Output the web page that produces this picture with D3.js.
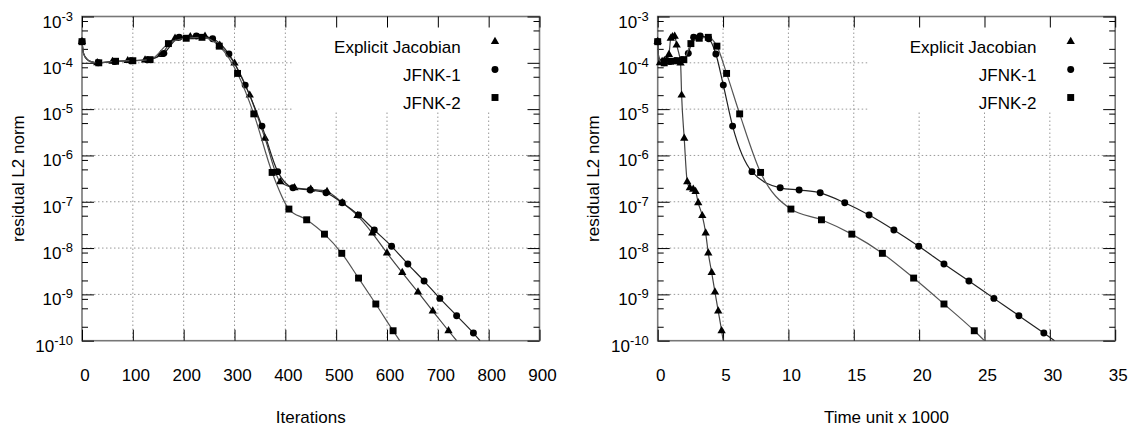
<!DOCTYPE html>
<html>
<head>
<meta charset="utf-8">
<script src="https://cdn.jsdelivr.net/npm/d3@7"></script>
<style>
	body { margin: 0; background: #fff; }
	text { font-family: "Liberation Sans", Arial, sans-serif; font-size: 17px; fill: #000; }
</style>
</head>
<body>
<svg id="chart" width="1134" height="426"></svg>
<script>
// residual L2 norm of each sample, with its iteration number and time unit (x1000)
// points 1-3 and the last one are curve-only (no marker drawn)
var resJac  = [2.86e-4, 1.6e-4, 1.19e-4, 1.05e-4, 1.0e-4, 1.07e-4, 1.11e-4, 1.15e-4, 1.5e-4, 3.39e-4, 3.63e-4, 3.72e-4, 2.4e-4, 9.8e-5, 2.0e-5, 2.34e-6, 2.7e-7, 2.0e-7, 1.86e-7, 1.66e-7, 9.5e-8, 5.0e-8, 2.1e-8, 7.8e-9, 2.95e-9, 1.12e-9, 4.37e-10, 1.64e-10, 1e-10];
var iterJac = [0, 3, 10, 19, 30, 60, 90, 124, 155, 183, 213, 242, 271, 300, 330, 360, 390, 418, 450, 482, 512, 542, 571, 600, 630, 661, 690, 721, 737];
var timeJac = [0, 0.02, 0.06, 0.11, 0.17, 0.34, 0.51, 0.68, 0.86, 1.0, 1.13, 1.3, 1.45, 1.75, 1.83, 2.03, 2.26, 2.46, 2.72, 2.9, 3.1, 3.41, 3.67, 3.87, 4.13, 4.38, 4.63, 4.89, 5.01];

var resJ1  = [2.86e-4, 1.6e-4, 1.19e-4, 1.05e-4, 1.0e-4, 1.07e-4, 1.11e-4, 1.16e-4, 1.6e-4, 3.55e-4, 3.8e-4, 3.31e-4, 1.55e-4, 3.3e-5, 4.3e-6, 4.47e-7, 2.0e-7, 1.79e-7, 1.56e-7, 9.5e-8, 5.16e-8, 2.45e-8, 1.09e-8, 4.52e-9, 1.94e-9, 8.2e-10, 3.47e-10, 1.46e-10, 1e-10];
var iterJ1 = [0, 3, 10, 19, 32, 64, 96, 128, 161, 191, 225, 257, 289, 321, 354, 385, 415, 449, 480, 512, 544, 575, 609, 641, 673, 704, 737, 770, 783];
var timeJ1 = [0, 0.04, 0.14, 0.27, 0.47, 0.93, 1.39, 1.86, 2.34, 2.75, 3.25, 3.9, 4.45, 5.02, 5.73, 7.21, 9.37, 10.82, 12.43, 14.31, 16.17, 18.07, 19.97, 21.9, 23.81, 25.72, 27.63, 29.54, 30.36];

var resJ2  = [2.86e-4, 1.6e-4, 1.19e-4, 1.05e-4, 1.0e-4, 1.08e-4, 1.11e-4, 1.17e-4, 2.6e-4, 3.39e-4, 3.55e-4, 2.29e-4, 5.9e-5, 7.9e-6, 4.3e-7, 6.95e-8, 4.08e-8, 2.0e-8, 7.7e-9, 2.25e-9, 6.2e-10, 1.64e-10, 1e-10];
var iterJ2 = [0, 3, 10, 19, 33, 66, 100, 134, 170, 205, 236, 270, 306, 338, 374, 407, 442, 477, 511, 544, 578, 612, 625];
var timeJ2 = [0, 0.04, 0.12, 0.25, 0.5, 1.0, 1.5, 2.0, 2.54, 3.18, 3.87, 4.53, 5.27, 6.27, 7.87, 10.19, 12.53, 14.85, 17.19, 19.58, 21.9, 24.22, 25.0];

var legendNames = ["Explicit Jacobian", "JFNK-1", "JFNK-2"];
var yDecades  = [1e-10, 1e-9, 1e-8, 1e-7, 1e-6, 1e-5, 1e-4, 1e-3];
var yExponents = ["-10", "-9", "-8", "-7", "-6", "-5", "-4", "-3"];
var iterTicks = [0, 100, 200, 300, 400, 500, 600, 700, 800, 900];
var timeTicks = [0, 5, 10, 15, 20, 25, 30, 35];

var svg = d3.select("#chart");
var W = 457.5, yTop = 16.5, yBot = 340.7;

var y = d3.scaleLog().domain([1e-10, 1e-3]).range([yBot, yTop]);

var yMinor = [];
yDecades.slice(0, -1).forEach(function(d) {
	[2, 5, 8].forEach(function(m) { yMinor.push(d * m); });
});

var symbols = [
	{type: d3.symbolTriangle, size: 30, line: "#444"},
	{type: d3.symbolCircle, size: 38, line: "#222"},
	{type: d3.symbolSquare, size: 48, line: "#555"}
];

var panels = [
	{x0: 82, xs: [iterJac, iterJ1, iterJ2], ticks: iterTicks, dom: [0, 900], title: "Iterations", id: "a"},
	{x0: 657.7, xs: [timeJac, timeJ1, timeJ2], ticks: timeTicks, dom: [0, 35], title: "Time unit x 1000", id: "b"}
];
var resAll = [resJac, resJ1, resJ2];

function hasMark(i, n) { return i == 0 || (i > 3 && i < n - 1); }

panels.forEach(function(p) {
	var x = d3.scaleLinear().domain(p.dom).range([0, W]);
	var g = svg.append("g").attr("transform", "translate(" + p.x0 + ",0)");

	g.append("clipPath").attr("id", "clip" + p.id)
		.append("rect").attr("x", 0).attr("y", yTop).attr("width", W).attr("height", yBot - yTop);

	// grid
	var grid = g.append("g").attr("stroke", "#999").attr("stroke-width", 1).attr("stroke-dasharray", "1.5,2.5");
	grid.selectAll("line.h").data(yDecades.slice(1, -1)).enter().append("line")
		.attr("x1", 0).attr("x2", W).attr("y1", function(d) { return y(d); }).attr("y2", function(d) { return y(d); });
	grid.selectAll("line.v").data(p.ticks.slice(1, -1)).enter().append("line")
		.attr("y1", yTop).attr("y2", yBot).attr("x1", function(d) { return x(d); }).attr("x2", function(d) { return x(d); });

	// key area hides the grid
	g.append("rect").attr("x", 211).attr("y", yTop).attr("width", W - 211).attr("height", 110 - yTop).attr("fill", "#fff");

	// border
	g.append("rect").attr("x", 0).attr("y", yTop).attr("width", W).attr("height", yBot - yTop)
		.attr("fill", "none").attr("stroke", "#777").attr("stroke-width", 1.6);

	// ticks
	function noDomain(sel) { sel.select(".domain").remove(); sel.selectAll("line").attr("stroke", "#000"); }
	g.append("g").call(d3.axisLeft(y).tickValues(yDecades).tickSize(-12).tickFormat("")).call(noDomain);
	g.append("g").call(d3.axisLeft(y).tickValues(yMinor).tickSize(-6).tickFormat("")).call(noDomain);
	g.append("g").attr("transform", "translate(" + W + ",0)")
		.call(d3.axisRight(y).tickValues(yDecades).tickSize(-12).tickFormat("")).call(noDomain);
	g.append("g").attr("transform", "translate(" + W + ",0)")
		.call(d3.axisRight(y).tickValues(yMinor).tickSize(-6).tickFormat("")).call(noDomain);
	g.append("g").attr("transform", "translate(0," + yTop + ")")
		.call(d3.axisTop(x).tickValues(p.ticks).tickSize(-11).tickFormat("")).call(noDomain);
	var xa = g.append("g").attr("transform", "translate(0," + yBot + ")")
		.call(d3.axisBottom(x).tickValues(p.ticks).tickSize(-11).tickPadding(28).tickFormat(d3.format("d")))
		.call(noDomain);
	xa.attr("font-size", null).attr("font-family", null);
	xa.selectAll("text").attr("dx", 2.5);

	// y tick labels 10^n
	var yl = g.selectAll("text.ylab").data(yDecades).enter().append("text")
		.attr("class", "ylab").attr("text-anchor", "end")
		.attr("x", -9).attr("y", function(d) { return y(d) + 11; });
	yl.append("tspan").text("10");
	yl.append("tspan").attr("dy", -7).style("font-size", "13px").text(function(d, i) { return yExponents[i]; });

	// axis titles
	g.append("text").attr("text-anchor", "middle")
		.attr("transform", "translate(-58.5," + ((yTop + yBot) / 2) + ") rotate(-90)")
		.text("residual L2 norm");
	g.append("text").attr("text-anchor", "middle").attr("x", W / 2).attr("y", 422.5).text(p.title);

	// curves
	var data = g.append("g");
	resAll.forEach(function(res, k) {
		var pts = res.map(function(v, i) { return [x(p.xs[k][i]), y(v), hasMark(i, res.length)]; });
		data.append("path").attr("clip-path", "url(#clip" + p.id + ")")
			.attr("d", d3.line().curve(d3.curveMonotoneX)(pts))
			.attr("fill", "none").attr("stroke", symbols[k].line).attr("stroke-width", 1.2);
		data.selectAll("path.m" + k).data(pts.filter(function(q) { return q[2]; })).enter().append("path")
			.attr("class", "m" + k)
			.attr("transform", function(q) { return "translate(" + q[0] + "," + q[1] + ")"; })
			.attr("d", d3.symbol().type(symbols[k].type).size(symbols[k].size))
			.attr("fill", "#000");
	});

	// legend
	legendNames.forEach(function(name, k) {
		g.append("text").attr("text-anchor", "end").attr("x", 378.7).attr("y", 53 + 28 * k).text(name);
		g.append("path").attr("transform", "translate(413," + (41.5 + 28 * k) + ")")
			.attr("d", d3.symbol().type(symbols[k].type).size(symbols[k].size)).attr("fill", "#000");
	});
});
</script>
</body>
</html>
